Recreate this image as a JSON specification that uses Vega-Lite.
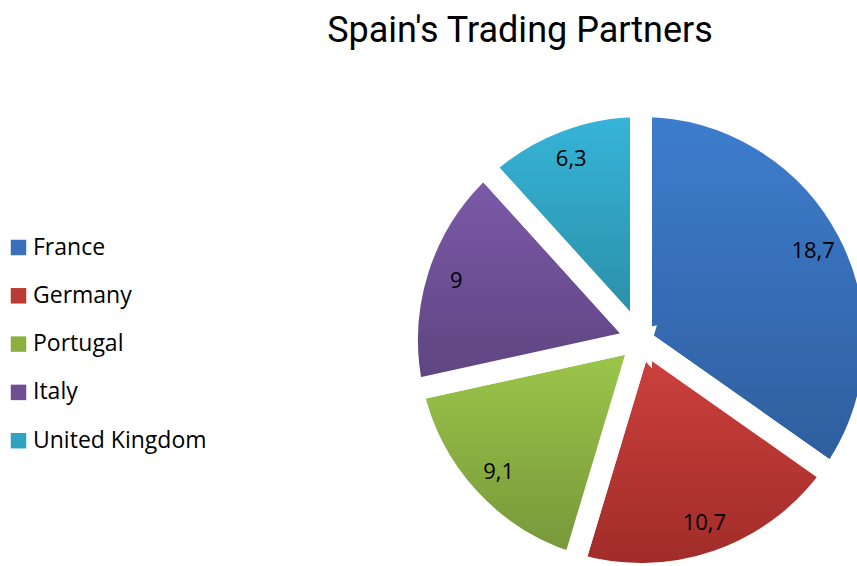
{
  "$schema": "https://vega.github.io/schema/vega-lite/v6.json",
  "autosize": {"type": "pad"},
  "width": 440,
  "height": 440,
  "padding": {"left": 7, "top": 13, "right": 0, "bottom": 0},
  "background": "white",
  "title": {
    "text": "Spain's Trading Partners",
    "anchor": "middle",
    "frame": "group",
    "dx": -121,
    "offset": 12,
    "font": "Roboto",
    "fontSize": 36,
    "fontWeight": "normal",
    "color": "#000000"
  },
  "data": {
    "values": [
      {"country": "France", "value": 18.7, "label": "18,7", "idx": 1},
      {"country": "Germany", "value": 10.7, "label": "10,7", "idx": 2},
      {"country": "Portugal", "value": 9.1, "label": "9,1", "idx": 3},
      {"country": "Italy", "value": 9.0, "label": "9", "idx": 4},
      {"country": "United Kingdom", "value": 6.3, "label": "6,3", "idx": 5}
    ]
  },
  "encoding": {
    "theta": {"field": "value", "type": "quantitative", "stack": true},
    "order": {"field": "idx", "type": "quantitative"}
  },
  "layer": [
    {
      "mark": {"type": "arc", "radius": 234, "stroke": "white", "strokeWidth": 22, "strokeJoin": "miter"},
      "encoding": {
        "color": {
          "field": "country",
          "type": "nominal",
          "scale": {
            "domain": ["France", "Germany", "Portugal", "Italy", "United Kingdom"],
            "range": ["#3a6fbc", "#bb3a36", "#8cb040", "#6e4f93", "#2fa3c0"]
          },
          "legend": {
            "title": null,
            "orient": "none",
            "legendX": -414,
            "legendY": 116,
            "symbolType": "square",
            "symbolSize": 240,
            "symbolStrokeWidth": 0,
            "labelFont": "Open Sans",
            "labelFontSize": 23,
            "labelColor": "#000000",
            "labelOffset": 3,
            "rowPadding": 24.3,
            "labelLimit": 300
          }
        }
      }
    },
    {
      "mark": {"type": "arc", "radius": 234, "stroke": "white", "strokeWidth": 22, "strokeJoin": "miter"},
      "encoding": {
        "fill": {
          "condition": [
            {"test": "datum.country === 'France'", "value": {"gradient": "linear", "x1": 0, "y1": 0, "x2": 0, "y2": 1, "stops": [{"offset": 0, "color": "#3e7ecf"}, {"offset": 1, "color": "#2e5d9c"}]}},
            {"test": "datum.country === 'Germany'", "value": {"gradient": "linear", "x1": 0, "y1": 0, "x2": 0, "y2": 1, "stops": [{"offset": 0, "color": "#d0423e"}, {"offset": 1, "color": "#9e2b28"}]}},
            {"test": "datum.country === 'Portugal'", "value": {"gradient": "linear", "x1": 0, "y1": 0, "x2": 0, "y2": 1, "stops": [{"offset": 0, "color": "#9dc94b"}, {"offset": 1, "color": "#769539"}]}},
            {"test": "datum.country === 'Italy'", "value": {"gradient": "linear", "x1": 0, "y1": 0, "x2": 0, "y2": 1, "stops": [{"offset": 0, "color": "#7d5bab"}, {"offset": 1, "color": "#5d447f"}]}}
          ],
          "value": {"gradient": "linear", "x1": 0, "y1": 0, "x2": 0, "y2": 1, "stops": [{"offset": 0, "color": "#37b6da"}, {"offset": 1, "color": "#298ba3"}]}
        }
      }
    },
    {
      "mark": {"type": "text", "radius": 194, "font": "Open Sans", "fontSize": 22, "color": "#000000"},
      "encoding": {
        "text": {"field": "label", "type": "nominal"}
      }
    }
  ]
}
